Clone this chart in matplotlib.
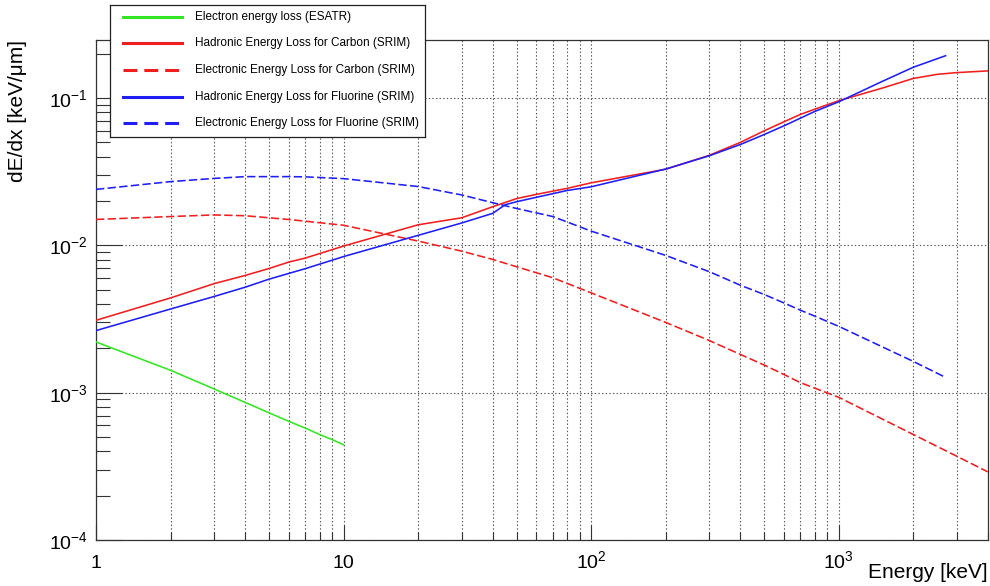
import matplotlib
matplotlib.use("Agg")
import matplotlib.pyplot as plt
from matplotlib.ticker import LogLocator, FixedLocator, NullFormatter, FixedFormatter
from matplotlib.lines import Line2D

plt.rcParams['font.family'] = ['Liberation Sans', 'DejaVu Sans']
plt.rcParams['mathtext.fontset'] = 'custom'
plt.rcParams['mathtext.rm'] = 'Liberation Sans'
plt.rcParams['mathtext.it'] = 'Liberation Sans:italic'
plt.rcParams['lines.scale_dashes'] = False

# ---- data ----
E_electron = [1, 2, 3, 4, 5, 6, 7, 8, 9, 10]
dedx_electron = [2.21e-3, 1.42e-3, 1.06e-3, 8.6e-4, 7.3e-4, 6.4e-4, 5.75e-4, 5.2e-4, 4.8e-4, 4.43e-4]

E_carbon_had = [1, 2, 3, 4, 5, 6, 7, 10, 20, 30, 40, 50, 60, 80, 100, 200, 300, 400, 500,
                600, 700, 800, 1000, 1500, 2000, 2500, 3000, 4000]
dedx_carbon_had = [3.1e-3, 4.4e-3, 5.5e-3, 6.25e-3, 6.97e-3, 7.7e-3, 8.2e-3, 9.9e-3, 0.0138,
                   0.0154, 0.0183, 0.0208, 0.0222, 0.0244, 0.0266, 0.0329, 0.0409, 0.050,
                   0.060, 0.069, 0.0775, 0.0841, 0.096, 0.117, 0.136, 0.145, 0.149, 0.153]

E_carbon_ele = [1, 2, 3, 4, 5, 6, 7, 10, 20, 30, 40, 50, 70, 100, 200, 300, 400, 500, 600,
                700, 1000, 2000, 3000, 4000]
dedx_carbon_ele = [0.0150, 0.0157, 0.0161, 0.0159, 0.0154, 0.0150, 0.0146, 0.0137, 0.0107,
                   0.00914, 0.00803, 0.00716, 0.00603, 0.00476, 0.0030, 0.00226, 0.00182,
                   0.00154, 0.00133, 0.00117, 9.3e-4, 5.2e-4, 3.7e-4, 2.9e-4]

E_fluor_had = [1, 2, 3, 4, 5, 6, 7, 10, 20, 30, 40, 45, 50, 60, 80, 100, 200, 300, 400, 500,
               600, 700, 800, 1000, 1500, 2000, 2700]
dedx_fluor_had = [2.64e-3, 3.7e-3, 4.5e-3, 5.2e-3, 5.9e-3, 6.45e-3, 6.95e-3, 8.4e-3, 0.0117,
                  0.0142, 0.0165, 0.0189, 0.0198, 0.0212, 0.0236, 0.0250, 0.033, 0.0406,
                  0.0484, 0.0566, 0.0648, 0.0731, 0.0812, 0.0944, 0.13, 0.162, 0.194]

E_fluor_ele = [1, 2, 3, 4, 5, 6, 7, 10, 20, 30, 40, 50, 70, 100, 200, 300, 400, 500, 600,
               700, 800, 1000, 2000, 2700]
dedx_fluor_ele = [0.0240, 0.0271, 0.0285, 0.0293, 0.0293, 0.0293, 0.0292, 0.0284, 0.0251,
                  0.0220, 0.0195, 0.0178, 0.0157, 0.0125, 0.00855, 0.00663, 0.00537, 0.00464,
                  0.00407, 0.00363, 0.00331, 0.00282, 0.00163, 0.00127]

labels = ["Electron energy loss (ESATR)",
          "Hadronic Energy Loss for Carbon (SRIM)",
          "Electronic Energy Loss for Carbon (SRIM)",
          "Hadronic Energy Loss for Fluorine (SRIM)",
          "Electronic Energy Loss for Fluorine (SRIM)"]

x_ticks = [1, 10, 100, 1000]
x_ticklabels = ["1", "10", r"$\mathregular{10^{2}}$", r"$\mathregular{10^{3}}$"]
y_ticks = [1e-4, 1e-3, 1e-2, 1e-1]
y_ticklabels = [r"$\mathregular{10^{-4}}$", r"$\mathregular{10^{-3}}$",
                r"$\mathregular{10^{-2}}$", r"$\mathregular{10^{-1}}$"]

GREEN = '#33e622'
RED = '#f01e1e'
BLUE = '#1e1ef5'
DASH = (0, (6.0, 2.4))

W, H = 990, 586
fig = plt.figure(figsize=(W / 100, H / 100), dpi=100)
ax = fig.add_axes([96 / W, (H - 540) / H, (988 - 96) / W, (540 - 40) / H])
ax.set_xscale('log')
ax.set_yscale('log')
ax.set_xlim(1, 4005)
ax.set_ylim(1e-4, 0.248)

lw = 1.15
series = [
    (E_electron, dedx_electron, GREEN, '-'),
    (E_carbon_had, dedx_carbon_had, RED, '-'),
    (E_carbon_ele, dedx_carbon_ele, RED, DASH),
    (E_fluor_had, dedx_fluor_had, BLUE, '-'),
    (E_fluor_ele, dedx_fluor_ele, BLUE, DASH),
]
for (xv, yv, c, ls), lab in zip(series, labels):
    ax.plot(xv, yv, color=c, linestyle=ls, lw=lw, label=lab, zorder=3)

ax.xaxis.set_major_locator(FixedLocator(x_ticks))
ax.xaxis.set_major_formatter(FixedFormatter(x_ticklabels))
ax.xaxis.set_minor_locator(LogLocator(base=10, subs=range(2, 10), numticks=20))
ax.xaxis.set_minor_formatter(NullFormatter())
ax.yaxis.set_major_locator(FixedLocator(y_ticks))
ax.yaxis.set_major_formatter(FixedFormatter(y_ticklabels))
ax.yaxis.set_minor_locator(LogLocator(base=10, subs=range(2, 10), numticks=20))
ax.yaxis.set_minor_formatter(NullFormatter())

gridkw = dict(color='#555555', linestyle=(0, (1.0, 1.6)), linewidth=0.8)
ax.grid(True, which='both', axis='x', **gridkw)
ax.grid(True, which='major', axis='y', **gridkw)
ax.set_axisbelow(True)

for s in ax.spines.values():
    s.set_linewidth(0.9)
    s.set_color('#333333')

ax.tick_params(axis='x', which='major', direction='in', length=11, width=0.8,
               top=False, bottom=True, labelsize=14, pad=20, color='#333333')
ax.tick_params(axis='x', which='minor', direction='in', length=6, width=0.8,
               top=False, bottom=True, color='#333333')
ax.tick_params(axis='y', which='major', direction='in', length=19, width=0.8,
               left=True, right=False, labelsize=14, pad=6, color='#333333')
ax.tick_params(axis='y', which='minor', direction='in', length=10, width=0.8,
               left=True, right=False, color='#333333')
for t in ax.xaxis.get_majorticklabels():
    t.set_verticalalignment('baseline')

fig.text(988 / W, 1 - 573 / H, "Energy [keV]", ha='right', va='center', fontsize=15)
fig.text(18 / W, 1 - 40 / H, "dE/dx [keV/\u03bcm]", ha='center', va='top',
         rotation=90, fontsize=15)

# legend box drawn in pixel coordinates
lx0, ly0, lx1, ly1 = 110, 5, 425, 137
lax = fig.add_axes([lx0 / W, 1 - ly1 / H, (lx1 - lx0) / W, (ly1 - ly0) / H])
lax.set_xlim(lx0, lx1)
lax.set_ylim(ly1, ly0)
lax.set_xticks([])
lax.set_yticks([])
for s in lax.spines.values():
    s.set_linewidth(0.9)
    s.set_color('#222222')
lax.set_facecolor('white')
rows = [17, 43, 70, 97, 123]
for (xv, yv, c, ls), lab, ry in zip(series, labels, rows):
    ldash = '-' if ls == '-' else (0, (10.0, 5.0))
    lax.add_line(Line2D([123, 182], [ry, ry], color=c, linestyle=ldash, lw=2.2))
    lax.text(195, ry, lab, ha='left', va='center', fontsize=8.5)

fig.savefig("out.png", dpi=100)
